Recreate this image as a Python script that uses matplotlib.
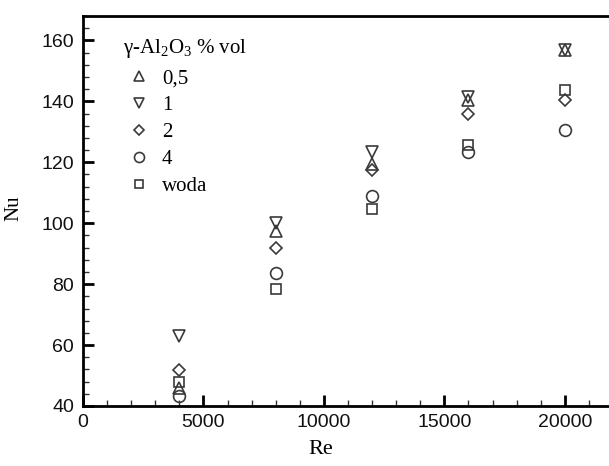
import matplotlib
matplotlib.use("Agg")
import matplotlib.pyplot as plt
from matplotlib.ticker import MultipleLocator

re_vals = [4000, 8000, 12000, 16000, 20000]
nu_05 = [46.0, 97.5, 119.5, 140.3, 157.0]
nu_1 = [63.0, 100.0, 123.4, 141.3, 157.0]
nu_2 = [51.7, 92.0, 117.3, 135.8, 140.3]
nu_4 = [43.2, 83.5, 108.8, 123.3, 130.5]
nu_woda = [48.0, 78.5, 104.5, 125.5, 143.8]

labels = ["0,5", "1", "2", "4", "woda"]
markers = ["^", "v", "D", "o", "s"]
sizes = [8, 8, 6.5, 8.5, 7]
series = [nu_05, nu_1, nu_2, nu_4, nu_woda]

plt.rcParams['mathtext.fontset'] = 'custom'
plt.rcParams['mathtext.rm'] = 'Liberation Serif'
plt.rcParams['mathtext.default'] = 'regular'

W, H = 609, 466
fig = plt.figure(figsize=(W / 100, H / 100), dpi=100)
ax = fig.add_axes([83 / W, 60 / H, 530 / W, 390 / H])

col = "#3a3a3a"
for y, m, lab, s in zip(series, markers, labels, sizes):
    ax.plot(re_vals, y, linestyle="none", marker=m, markersize=s,
            markerfacecolor="none", markeredgecolor=col, markeredgewidth=1.2,
            label=lab)

ax.set_xlim(0, 22000)
ax.set_ylim(40, 168)
ax.xaxis.set_major_locator(MultipleLocator(5000))
ax.xaxis.set_minor_locator(MultipleLocator(1000))
ax.yaxis.set_major_locator(MultipleLocator(20))
ax.yaxis.set_minor_locator(MultipleLocator(4))

ax.tick_params(which="major", direction="in", length=8, width=2, color="black",
               labelsize=14, top=False, right=False)
ax.tick_params(axis="y", which="major", pad=6.5)
ax.tick_params(axis="x", which="major", pad=5.5)
ax.tick_params(which="minor", direction="in", length=4.5, width=1, color="#333333",
               top=False, right=False)
for lbl in ax.get_xticklabels() + ax.get_yticklabels():
    lbl.set_fontfamily("Liberation Sans")
    lbl.set_color("#111111")
for sp in ax.spines.values():
    sp.set_linewidth(2)

ax.set_xlabel("Re", fontfamily="Liberation Serif", fontsize=16)
ax.set_ylabel("Nu", fontfamily="Liberation Serif", fontsize=15)
ax.xaxis.set_label_coords((321 - 83) / 530, -(440 - 406) / 390)
ax.yaxis.set_label_coords(-(83 - 23) / 530, (406 - 208) / 390)

fig.text(123 / W, (H - 53) / H, r"γ-Al$_2$O$_3$ % vol",
         fontfamily="Liberation Serif", fontsize=15, va="baseline", ha="left")

leg = ax.legend(loc="upper left", bbox_to_anchor=(124.7 / W, (H - 68.5) / H),
                bbox_transform=fig.transFigure, frameon=False,
                prop={"family": "Liberation Serif", "size": 15},
                handlelength=1.4, handletextpad=0.38, labelspacing=0.36,
                borderpad=0, borderaxespad=0, markerscale=0.85)

fig.savefig("out.png", dpi=100)
